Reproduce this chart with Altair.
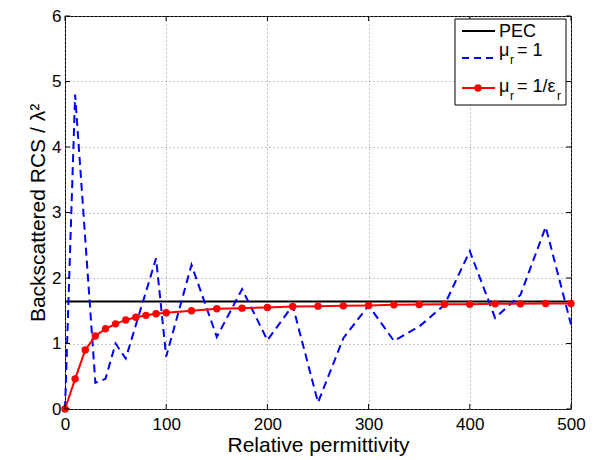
import altair as alt
import pandas as pd

# ---- data ----
blue_x = [0, 10, 30, 40, 50, 60, 90, 100, 125, 150, 175, 200, 225, 250, 275, 300,
          325, 350, 375, 400, 425, 450, 475, 500]
blue_y = [0.0, 4.8, 0.4, 0.46, 1.0, 0.77, 2.3, 0.8, 2.2, 1.1, 1.83, 1.05, 1.58, 0.1,
          1.08, 1.58, 1.04, 1.26, 1.59, 2.41, 1.39, 1.74, 2.78, 1.29]
red_x = [0, 10, 20, 30, 40, 50, 60, 70, 80, 90, 100, 125, 150, 175, 200, 225, 250,
         275, 300, 325, 350, 375, 400, 425, 450, 475, 500]
red_y = [0.0, 0.46, 0.9, 1.115, 1.225, 1.3, 1.36, 1.4, 1.43, 1.455, 1.47, 1.5, 1.53,
         1.54, 1.55, 1.565, 1.57, 1.575, 1.58, 1.59, 1.595, 1.6, 1.6, 1.605, 1.605,
         1.61, 1.61]
pec_x = [0, 500]
pec_y = [1.64, 1.64]
x_ticks = [0, 100, 200, 300, 400, 500]
y_ticks = [0, 1, 2, 3, 4, 5, 6]

W, H = 506, 393
FONT = "Liberation Sans"

xscale = alt.Scale(domain=[0, 500], nice=False, zero=False)
yscale = alt.Scale(domain=[0, 6], nice=False, zero=False)

x_axis = alt.Axis(values=x_ticks, format="d", labelFlush=False,
                  title="Relative permittivity", grid=True,
                  gridDash=[1, 3], gridColor="#888888", gridWidth=1,
                  ticks=False, tickSize=0, domain=False, labelPadding=7,
                  labelFontSize=17, labelFont=FONT, labelColor="black",
                  titleFontSize=21, titleFont=FONT, titleFontWeight="normal",
                  titleColor="black", titleY=42.7, titleBaseline="alphabetic")
y_axis = alt.Axis(values=y_ticks, format="d", labelFlush=False,
                  title="Backscattered RCS / λ²", grid=True,
                  gridDash=[1, 3], gridColor="#888888", gridWidth=1,
                  ticks=False, tickSize=0, domain=False, labelPadding=4,
                  labelFontSize=17, labelFont=FONT, labelColor="black",
                  titleFontSize=21, titleFont=FONT, titleFontWeight="normal",
                  titleColor="black", titleX=-27, titleY=H / 2,
                  titleAlign="center", titleBaseline="middle")

pec_df = pd.DataFrame({"x": pec_x, "y": pec_y})
blue_df = pd.DataFrame({"x": blue_x, "y": blue_y})
red_df = pd.DataFrame({"x": red_x, "y": red_y})
xt_df = pd.DataFrame({"t": x_ticks})
yt_df = pd.DataFrame({"t": y_ticks})
one = pd.DataFrame({"a": [0]})

pec = alt.Chart(pec_df).mark_line(color="black", strokeWidth=2).encode(
    x=alt.X("x:Q", scale=xscale, axis=x_axis),
    y=alt.Y("y:Q", scale=yscale, axis=y_axis))
blue = alt.Chart(blue_df).mark_line(color="#0000ff", strokeWidth=2,
                                    strokeDash=[8, 5]).encode(
    x=alt.X("x:Q", scale=xscale), y=alt.Y("y:Q", scale=yscale))
red = alt.Chart(red_df).mark_line(
    color="#ff0000", strokeWidth=2,
    point=alt.OverlayMarkDef(filled=True, color="#ff0000", size=55, opacity=1)
).encode(x=alt.X("x:Q", scale=xscale), y=alt.Y("y:Q", scale=yscale))

# inward ticks (MATLAB style) on all four sides
tk_b = alt.Chart(xt_df).mark_rule(color="black", strokeWidth=1).encode(
    x=alt.X("t:Q", scale=xscale), y=alt.value(H), y2=alt.value(H - 5))
tk_t = alt.Chart(xt_df).mark_rule(color="black", strokeWidth=1).encode(
    x=alt.X("t:Q", scale=xscale), y=alt.value(0), y2=alt.value(5))
tk_l = alt.Chart(yt_df).mark_rule(color="black", strokeWidth=1).encode(
    y=alt.Y("t:Q", scale=yscale), x=alt.value(0), x2=alt.value(5))
tk_r = alt.Chart(yt_df).mark_rule(color="black", strokeWidth=1).encode(
    y=alt.Y("t:Q", scale=yscale), x=alt.value(W), x2=alt.value(W - 5))

# legend
leg_box = alt.Chart(one).mark_rect(fill="white", stroke="black", strokeWidth=1).encode(
    x=alt.value(390), x2=alt.value(501), y=alt.value(3), y2=alt.value(89))
leg_pec = alt.Chart(one).mark_rule(color="black", strokeWidth=2).encode(
    x=alt.value(397), x2=alt.value(430), y=alt.value(15))
leg_blue = alt.Chart(one).mark_rule(color="#0000ff", strokeWidth=2, strokeDash=[7, 5]).encode(
    x=alt.value(397), x2=alt.value(430), y=alt.value(42))
leg_red = alt.Chart(one).mark_rule(color="#ff0000", strokeWidth=2).encode(
    x=alt.value(397), x2=alt.value(430), y=alt.value(72))
leg_dot = alt.Chart(one).mark_point(filled=True, color="#ff0000", size=55, opacity=1).encode(
    x=alt.value(413), y=alt.value(72))


def txt(s, x, y, size=18):
    return alt.Chart(one).mark_text(align="left", baseline="alphabetic", font=FONT,
                                    fontSize=size, color="black").encode(
        x=alt.value(x), y=alt.value(y), text=alt.value(s))


legend_texts = [
    txt("PEC", 434, 21),
    txt("μ", 434, 40), txt("r", 445, 48, 12), txt("= 1", 452, 40),
    txt("μ", 434, 76), txt("r", 445, 84, 12), txt("= 1/ε", 452, 76),
    txt("r", 492, 84, 12),
]

chart = alt.layer(pec, blue, red, tk_b, tk_t, tk_l, tk_r,
                  leg_box, leg_pec, leg_blue, leg_red, leg_dot, *legend_texts).properties(
    width=W, height=H,
    padding={"left": 57, "top": 8, "right": 21, "bottom": 50},
    autosize=alt.AutoSizeParams(type="none"),
).configure_view(stroke="black", strokeWidth=1)

chart.save("out.html", embed_options={"renderer": "svg", "actions": False})
